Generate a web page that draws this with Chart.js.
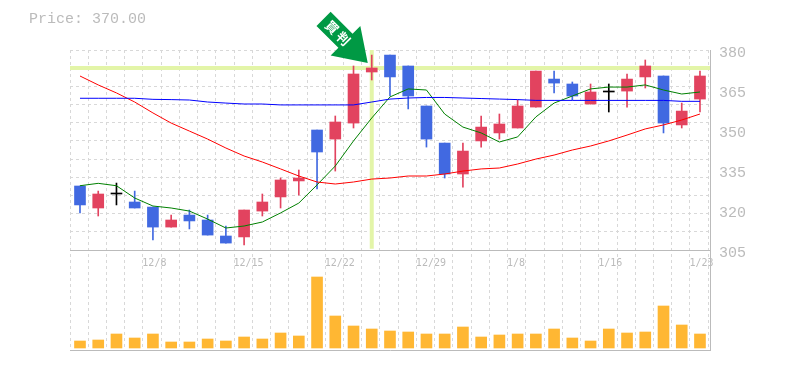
<!DOCTYPE html>
<html>
<head>
<meta charset="utf-8">
<title>Price chart</title>
<style>
    html, body { margin: 0; padding: 0; background: #fff; }
    #wrap { width: 785px; height: 370px; }
</style>
<script src="https://cdn.jsdelivr.net/npm/chart.js@4"></script>
</head>
<body>
<div id="wrap"><canvas id="priceChart" width="785" height="370"></canvas></div>
<script>
// values
const priceTitle = "Price: 370.00";
const opens  = [329, 320.75, 326, 323, 321.1, 313.6, 318.1, 316.25, 310.25, 309.9, 319.6, 324.9, 330.9, 350, 346.6, 352.6, 371.75, 378.1, 374, 359, 345.1, 333.5, 345.9, 348.9, 350.75, 358.6, 369.1, 367.25, 359.75, 364.25, 364.6, 369.9, 370.25, 351.9, 361.6];
const highs  = [329, 327.1, 330.1, 327.1, 321.1, 318.1, 320, 318.1, 314, 320, 326, 332, 335, 350, 355.25, 374, 378.1, 378.1, 374, 359, 345.1, 345.1, 355.25, 356, 361.25, 372.1, 372.1, 368, 367.25, 367.25, 371, 376.25, 370.25, 360.1, 372.1];
const lows   = [318.9, 317.75, 321.9, 320.75, 308.75, 313.6, 312.9, 310.6, 307.6, 306.9, 317.75, 320.75, 325.6, 327.9, 334.6, 350.75, 368.75, 362.75, 357.9, 343.6, 332, 328.6, 343.6, 346.6, 350.75, 358.6, 363.9, 361.25, 359.75, 356.75, 358.6, 365.75, 348.9, 350.75, 356.75];
const closes = [321.9, 326, 326, 320.75, 313.6, 316.25, 315.9, 310.6, 307.6, 320, 323, 331.25, 332, 341.75, 353, 371, 373.25, 369.9, 362.75, 346.6, 333.5, 342.1, 351.1, 352.25, 359, 372.1, 367.6, 362.75, 364.25, 364.25, 369.1, 374, 352.6, 357.1, 370.25];
const maShort = [329.1, 330, 329.1, 324.5, 321.5, 320.75, 319.6, 316.6, 313.25, 314, 315.5, 318.9, 322.6, 329.4, 336.5, 345.9, 354.5, 362.4, 365.4, 365, 356, 351.1, 348.9, 345.5, 347.4, 354.9, 360.1, 362.75, 365.4, 366.1, 366.1, 366.9, 365, 363.5, 364.25];
const maMid = [370.25, 366.9, 363.9, 360.5, 356.4, 352.6, 349.6, 346.6, 343.25, 340.25, 338, 335.4, 332.75, 330.5, 329.75, 330.5, 331.6, 332, 332.75, 332.75, 333.5, 334.6, 335.4, 335.75, 337.25, 339.1, 340.6, 342.5, 344, 345.9, 348.1, 350.4, 351.9, 353.75, 356];
const maLong = [361.9, 361.9, 361.9, 361.9, 361.5, 361.4, 361.25, 360.5, 360.1, 359.75, 359.75, 359.4, 359.4, 359.4, 359.4, 359.4, 360.5, 361.6, 362, 362.2, 362.2, 362, 361.8, 361.6, 361.4, 361.1, 361.1, 361.1, 361.1, 361.1, 361.1, 361.1, 361.1, 360.75, 360.75];
const volumes = [7, 8, 14, 10, 14, 6, 6, 9, 7, 11, 9, 15, 12, 71, 32, 22, 19, 17, 16, 14, 14, 21, 11, 13, 14, 14, 19, 10, 7, 19, 15, 16, 42, 23, 14];
const priceTicks = [380, 365, 350, 335, 320, 305];
const dateLabels = ["12/8", "12/15", "12/22", "12/29", "1/8", "1/16", "1/23"];
const dateGridLines = [4, 9, 14, 19, 24, 29, 34];
const markIndex = 16;
const markPrice = 373.25;
const markText = "買判";

const red = "#e2435f", blue = "#4169e1", black = "#000000";
const gridColor = "#d8d8d8", axisColor = "#bbbbbb", textColor = "#bbbbbb", markColor = "#e3f5a8";
const xMin = -0.548, xMax = 34.55;

function candleColor(i) {
    if (opens[i] === closes[i]) return black;
    return closes[i] > opens[i] ? red : blue;
}

const xs = opens.map(function (v, i) { return i; });

function lineSet(values, color) {
    return {
        type: "line",
        data: xs.map(function (x, i) { return { x: x, y: values[i] }; }),
        borderColor: color,
        borderWidth: 1,
        pointRadius: 0,
        tension: 0,
        yAxisID: "y",
        order: 2
    };
}

function markSet(points, width) {
    return {
        type: "line",
        data: points,
        borderColor: markColor,
        borderWidth: width,
        pointRadius: 0,
        yAxisID: "y",
        order: 9
    };
}

// arrow over the marked day, follows the scales
const arrowPlugin = {
    id: "arrow",
    afterDatasetsDraw: function (chart) {
        const tipX = chart.scales.x.getPixelForValue(markIndex) - 4;
        const tipY = chart.scales.y.getPixelForValue(markPrice) - 5;
        const ctx = chart.ctx;
        ctx.save();
        ctx.translate(tipX, tipY);
        ctx.rotate(Math.PI / 4);
        ctx.fillStyle = "#009944";
        ctx.beginPath();
        ctx.moveTo(0, 0);
        ctx.lineTo(-31.5, -21);
        ctx.lineTo(-31.5, -10);
        ctx.lineTo(-62.5, -10);
        ctx.lineTo(-62.5, 10);
        ctx.lineTo(-31.5, 10);
        ctx.lineTo(-31.5, 21);
        ctx.closePath();
        ctx.fill();
        ctx.fillStyle = "#ffffff";
        ctx.font = "bold 13px 'Noto Sans CJK JP'";
        ctx.letterSpacing = "3px";
        ctx.textAlign = "center";
        ctx.textBaseline = "middle";
        ctx.fillText(markText, -41, 0);
        ctx.restore();
    }
};

new Chart(document.getElementById("priceChart"), {
    data: {
        datasets: [
            markSet([{ x: xMin, y: markPrice }, { x: xMax, y: markPrice }], 4),
            markSet([{ x: markIndex, y: 380 }, { x: markIndex, y: 305.5 }], 4),
            {
                type: "bar",
                data: xs.map(function (x, i) { return { x: x, y: [lows[i], highs[i]] }; }),
                backgroundColor: xs.map(candleColor),
                barThickness: 1,
                grouped: false,
                yAxisID: "y",
                order: 5
            },
            {
                type: "bar",
                data: xs.map(function (x, i) { return { x: x, y: [opens[i], closes[i]] }; }),
                backgroundColor: xs.map(candleColor),
                barThickness: 11,
                minBarLength: 1,
                grouped: false,
                yAxisID: "y",
                order: 4
            },
            lineSet(maLong, "#0000ff"),
            lineSet(maMid, "#ff0000"),
            lineSet(maShort, "#008000"),
            {
                type: "bar",
                data: xs.map(function (x, i) { return { x: x, y: volumes[i] }; }),
                backgroundColor: "#ffb733",
                barThickness: 11,
                grouped: false,
                yAxisID: "yVol",
                order: 6
            }
        ]
    },
    options: {
        responsive: false,
        animation: false,
        layout: { padding: { left: 29, right: 0, top: 10, bottom: 20 } },
        plugins: {
            legend: { display: false },
            tooltip: { enabled: false },
            title: {
                display: true,
                text: priceTitle,
                align: "start",
                color: textColor,
                font: { family: "'Liberation Mono'", size: 15, weight: "normal" },
                padding: { top: 0, bottom: 22 }
            }
        },
        scales: {
            x: {
                type: "linear",
                offset: false,
                position: { y: 305 },
                min: xMin,
                max: xMax,
                afterBuildTicks: function (axis) {
                    const list = [];
                    for (let j = 0; j <= 35; j++) list.push({ value: xMin + j });
                    axis.ticks = list;
                },
                grid: { color: gridColor, drawTicks: false, offset: false },
                border: { color: axisColor, width: 1, dash: [3, 3] },
                ticks: {
                    autoSkip: false,
                    maxRotation: 0,
                    minRotation: 0,
                    align: "start",
                    labelOffset: -0.6,
                    padding: 7,
                    color: textColor,
                    font: { family: "'DejaVu Sans Mono'", size: 10 },
                    callback: function (value, index) {
                        const n = dateGridLines.indexOf(index);
                        return n >= 0 ? dateLabels[n] : "";
                    }
                }
            },
            xBase: {
                type: "linear",
                axis: "x",
                offset: false,
                position: "bottom",
                min: xMin,
                max: xMax,
                grid: { display: false, drawTicks: false },
                border: { color: axisColor, width: 1 },
                ticks: { display: false }
            },
            y: {
                type: "linear",
                position: "right",
                min: 267.5,
                max: 380,
                afterBuildTicks: function (axis) {
                    axis.ticks = priceTicks.map(function (v) { return { value: v }; });
                },
                afterFit: function (axis) { axis.width = 75; },
                grid: { display: false, drawTicks: false },
                border: { color: axisColor, width: 1 },
                ticks: {
                    labelOffset: 3,
                    padding: 9,
                    color: textColor,
                    font: { family: "'Liberation Mono'", size: 15 }
                }
            },
            yGrid: {
                type: "linear",
                position: "left",
                reverse: true,
                min: 0,
                max: 16.5,
                afterBuildTicks: function (axis) {
                    const list = [];
                    for (let k = 0; k <= 11; k++) list.push({ value: k });
                    axis.ticks = list;
                },
                afterFit: function (axis) { axis.width = 41; },
                grid: { color: gridColor, drawTicks: false },
                border: { display: false, dash: [3, 3] },
                ticks: { display: false }
            },
            yVol: {
                type: "linear",
                display: false,
                min: -2,
                max: 298
            }
        }
    },
    plugins: [arrowPlugin]
});
</script>
</body>
</html>
